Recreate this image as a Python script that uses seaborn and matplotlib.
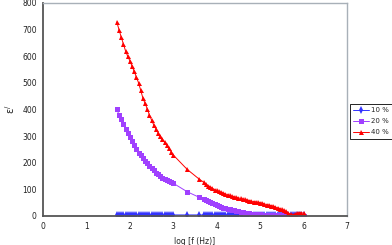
import matplotlib
matplotlib.use("Agg")
import matplotlib.pyplot as plt
import seaborn as sns
import pandas as pd

# log frequency grid (dense, gap, dense)
log_f = [1.70, 1.75, 1.80, 1.85, 1.90, 1.95, 2.00, 2.05, 2.10, 2.15, 2.20, 2.25, 2.30, 2.35,
         2.40, 2.45, 2.50, 2.55, 2.60, 2.65, 2.70, 2.75, 2.80, 2.85, 2.90, 2.95, 3.00,
         3.32, 3.60,
         3.70, 3.75, 3.80, 3.85, 3.90, 3.95, 4.00, 4.05, 4.10, 4.15, 4.20, 4.25, 4.30, 4.35,
         4.40, 4.45, 4.50, 4.55, 4.60, 4.65, 4.70, 4.75, 4.80, 4.85, 4.90, 4.95, 5.00, 5.05,
         5.10, 5.15, 5.20, 5.25, 5.30, 5.35, 5.40, 5.45, 5.50, 5.55, 5.60, 5.65, 5.70, 5.75,
         5.80, 5.85, 5.90, 5.95, 6.00]

eps_10 = [4, 4, 4, 4, 4, 4, 4, 4, 4, 4, 4, 4, 4, 4,
          4, 4, 4, 4, 4, 4, 4, 4, 4, 4, 4, 4, 4,
          4, 4,
          4, 4, 4, 4, 4, 4, 4, 4, 4, 4, 4, 3.5, 3.5, 3.5,
          3.5, 3.5, 3.5, 3.5, 3.5, 3.5, 3.5, 3.5, 3, 3, 3, 3, 3, 3,
          3, 3, 3, 3, 3, 3, 3, 3, 3, 3, 3, 3, 3, 3,
          3, 3, 3, 3, 3]

eps_20 = [401, 380, 363, 345, 328, 312, 297, 283, 265, 251, 238, 228, 218, 208,
          199, 189, 180, 172, 163, 156, 150, 144, 139, 135, 131, 127, 123,
          91, 70,
          63, 59, 56, 52, 48, 44, 40, 37, 34, 31, 29, 27, 25, 23,
          21, 19, 17, 16, 14, 13, 12, 11, 9, 8, 7, 6.5, 6, 5.5,
          5, 4.5, 4, 3.5, 3, 3, 2.5, 2, 2, 2, 1.5, 1.5, 1, 1,
          1, 1, 1, 1, 1]

eps_40 = [728, 700, 672, 647, 620, 600, 583, 563, 543, 522, 500, 472, 443, 423,
          403, 380, 360, 342, 328, 313, 300, 289, 277, 266, 255, 242, 229,
          175, 138,
          127, 120, 114, 109, 104, 99, 96, 92, 89, 86, 83, 80, 77, 74,
          72, 70, 68, 66, 64, 62, 60, 58, 56, 54, 53, 51, 50, 48,
          45, 43, 41, 39, 37, 34, 31, 28, 25, 21, 17, 12, 7, 4,
          6, 10, 12, 12, 11]

labels = ["10 %", "20 %", "40 %"]
colors = {"10 %": "#3333FF", "20 %": "#A040FF", "40 %": "#FF0000"}
markers = {"10 %": "d", "20 %": "s", "40 %": "^"}

df = pd.concat([
    pd.DataFrame({"log_f": log_f, "eps": ys, "conc": lab})
    for lab, ys in zip(labels, [eps_10, eps_20, eps_40])
], ignore_index=True)

sns.set_style("white")
plt.rcParams["font.family"] = ["DejaVu Sans"]

fig = plt.figure(figsize=(3.92, 2.45), dpi=100)
ax = fig.add_axes([0.1097, 0.1184, 0.7755, 0.8694])

sns.lineplot(data=df, x="log_f", y="eps", hue="conc", style="conc",
             palette=colors, markers=markers, dashes=False, sort=False,
             estimator=None, linewidth=0.7, markersize=3.6,
             markeredgewidth=0, ax=ax, legend=True)

ax.set_xlim(0, 7)
ax.set_ylim(0, 800)
ax.set_xticks(range(0, 8))
ax.set_yticks(range(0, 801, 100))
ax.tick_params(axis="both", labelsize=5.5, length=2.5, width=0.8,
               direction="out", pad=2, colors="#222222")

for side in ["left", "bottom"]:
    ax.spines[side].set_color("#555555")
    ax.spines[side].set_linewidth(1.3)
for side in ["top", "right"]:
    ax.spines[side].set_color("#A8B0B8")
    ax.spines[side].set_linewidth(1.0)

ax.set_xlabel("log [f (Hz)]", fontsize=5.5, labelpad=4, color="#222222")
ax.set_ylabel("ε$^{/}$", fontsize=7, rotation=90, color="#222222")
ax.yaxis.set_label_coords(-0.085, 0.5)

handles, labs = ax.get_legend_handles_labels()
ax.legend(handles, labs, loc="upper left", bbox_to_anchor=(0.892, 0.576),
          bbox_transform=fig.transFigure, fontsize=5, frameon=True,
          fancybox=False, edgecolor="black", framealpha=1, borderpad=0.45,
          handlelength=2.3, labelspacing=0.75, handletextpad=0.35,
          borderaxespad=0)
ax.get_legend().get_frame().set_linewidth(0.6)

fig.savefig("out.png", dpi=100)
